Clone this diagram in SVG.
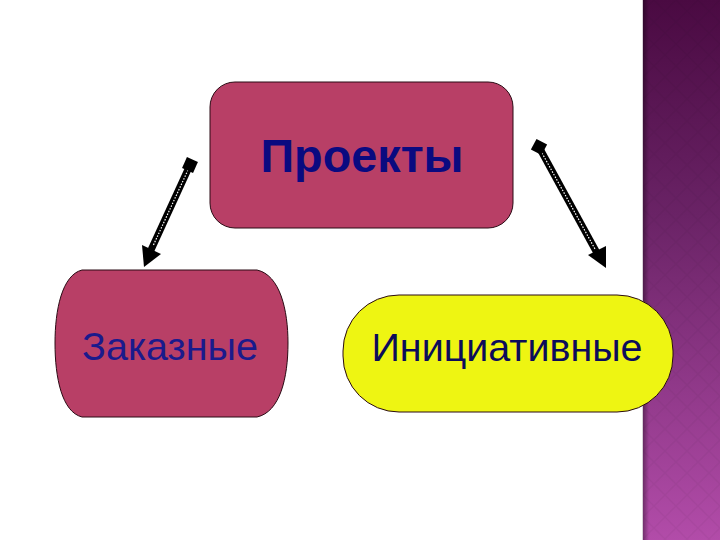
<svg xmlns="http://www.w3.org/2000/svg" width="720" height="540" viewBox="0 0 720 540">
<defs>
<linearGradient id="strip" x1="0" y1="0" x2="0" y2="1">
<stop offset="0" stop-color="#4a0a42"/>
<stop offset="0.4" stop-color="#6a2366"/>
<stop offset="1" stop-color="#b24ca9"/>
</linearGradient>
<linearGradient id="shadow" x1="0" y1="0" x2="1" y2="0">
<stop offset="0" stop-color="#000" stop-opacity="0.35"/>
<stop offset="1" stop-color="#000" stop-opacity="0"/>
</linearGradient>
<pattern id="diam" width="22" height="22" patternUnits="userSpaceOnUse" x="643" y="0">
<path d="M11,0 L22,11 L11,22 L0,11 Z" fill="none" stroke="#000" stroke-opacity="0.035" stroke-width="1.5"/>
</pattern>
<marker id="sq" viewBox="0 0 10 10" refX="5" refY="5" markerWidth="2" markerHeight="2" markerUnits="strokeWidth" orient="auto">
<rect x="0" y="0" width="10" height="10" fill="#000"/>
</marker>
</defs>
<style>
.node{stroke:#2a0a14;stroke-width:1}
.lbl{font-family:"Liberation Sans",Arial,sans-serif;text-anchor:middle}
.shaft{stroke:#000;stroke-width:7;fill:none}
.dots{stroke:#fff;stroke-width:1.2;stroke-dasharray:1.5 1.5;fill:none}
</style>
<rect width="720" height="540" fill="#fff"/>
<g id="strip-bg">
<rect x="643" y="0" width="77" height="540" fill="url(#strip)"/>
<rect x="643" y="0" width="77" height="540" fill="url(#diam)"/>
<rect x="643" y="0" width="6" height="540" fill="url(#shadow)"/>
<rect x="642" y="0" width="1" height="540" fill="#d8d0d8"/>
</g>
<g id="connectors">
<line class="shaft" x1="190" y1="165" x2="151" y2="250"/>
<line class="dots" x1="188" y1="170" x2="153" y2="246"/>
<polygon points="144,267 142,245 161,254" fill="#000"/>
<line class="shaft" x1="539" y1="147" x2="597" y2="253"/>
<line class="dots" x1="542" y1="153" x2="595" y2="249"/>
<polygon points="606,268 588,255 606,246" fill="#000"/>
<rect x="533" y="141" width="12" height="12" fill="#000" transform="rotate(28 539 147)"/>
<rect x="184" y="159" width="12" height="12" fill="#000" transform="rotate(24 190 165)"/>
</g>
<g id="node-proekty">
<rect class="node" x="210" y="82" width="303" height="146" rx="25" fill="#b83f66"/>
<text class="lbl" x="362" y="172" font-size="46" font-weight="bold" fill="#0a0a80" textLength="203" lengthAdjust="spacingAndGlyphs">Проекты</text>
</g>
<g id="node-zakaznye">
<path class="node" d="M82,270 H257 C280,275 288,310 288,343 C288,378 280,412 257,417 H82 C62,412 55,378 55,343 C55,310 62,275 82,270 Z" fill="#b83f66"/>
<text class="lbl" x="170" y="360" font-size="39" fill="#1a1a8c" textLength="176" lengthAdjust="spacingAndGlyphs">Заказные</text>
</g>
<g id="node-iniciativnye">
<rect class="node" x="343" y="295" width="330" height="117" rx="56" fill="#eef512"/>
<text class="lbl" x="507" y="361" font-size="39" fill="#0c0c5a" textLength="271" lengthAdjust="spacingAndGlyphs">Инициативные</text>
</g>
</svg>
